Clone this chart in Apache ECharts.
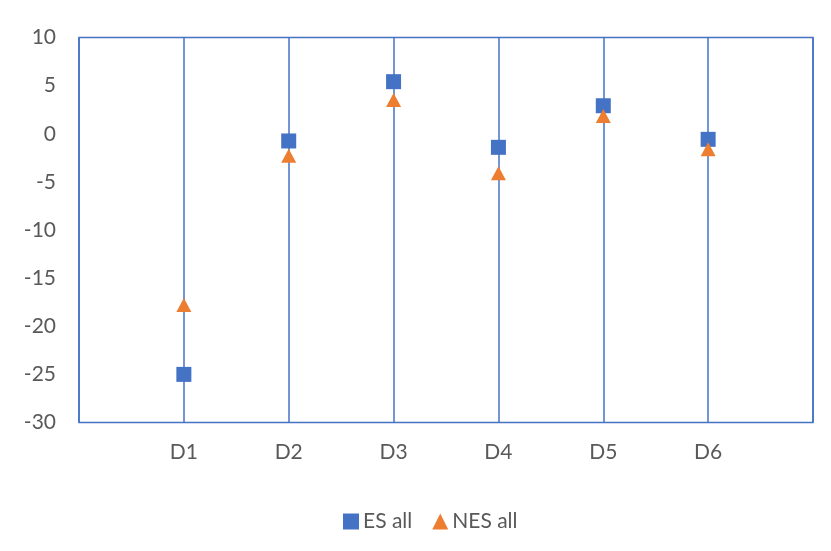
<!DOCTYPE html>
<html>
<head>
<meta charset="utf-8">
<script src="https://cdn.jsdelivr.net/npm/echarts@6/dist/echarts.min.js"></script>
<style>
  html, body { margin: 0; padding: 0; background: #fff; }
  #chart { width: 831px; height: 551px; }
</style>
</head>
<body>
<div id="chart"></div>
<script>
// Categories; empty slots pad each side so the points sit one band in from the frame.
const categories = ['', 'D1', 'D2', 'D3', 'D4', 'D5', 'D6', ''];
const esAll  = [null, -25.0, -0.75, 5.41, -1.41, 2.91, -0.58, null];
const nesAll = [null, -17.79, -2.28, 3.51, -4.11, 1.84, -1.62, null];
const yTicks = { min: -30, max: 10, interval: 5 };

const FONT = 'Lato, "Liberation Sans", sans-serif';
const TEXT = '#595959';
const BLUE = '#4472C4';
const ORANGE = '#ED7D31';

const chart = echarts.init(document.getElementById('chart'));
chart.setOption({
  animation: false,
  grid: {
    left: 79, right: 18, top: 37.5, bottom: 128.5,
    show: true, borderColor: BLUE, borderWidth: 1.5, backgroundColor: 'transparent'
  },
  xAxis: {
    type: 'category',
    data: categories,
    boundaryGap: false,
    axisLine: { show: false },
    axisTick: { show: false },
    axisLabel: { color: TEXT, fontFamily: FONT, fontSize: 21, margin: 19 },
    splitLine: { show: true, lineStyle: { color: BLUE, width: 1.5 } }
  },
  yAxis: {
    type: 'value',
    min: yTicks.min, max: yTicks.max, interval: yTicks.interval,
    axisLine: { show: false },
    axisTick: { show: false },
    splitLine: { show: false },
    axisLabel: { color: TEXT, fontFamily: FONT, fontSize: 21, margin: 23 }
  },
  legend: {
    top: 506,
    left: 338,
    itemWidth: 16,
    itemHeight: 16,
    itemGap: 20,
    textStyle: { color: TEXT, fontFamily: FONT, fontSize: 21, padding: [0, 0, 0, -1] },
    data: [
      { name: 'ES all', icon: 'rect' },
      { name: 'NES all', icon: 'triangle' }
    ]
  },
  series: [
    {
      name: 'ES all',
      type: 'scatter',
      data: esAll,
      symbol: 'rect',
      symbolSize: 15,
      itemStyle: { color: BLUE, opacity: 1 },
      z: 3
    },
    {
      name: 'NES all',
      type: 'scatter',
      data: nesAll,
      symbol: 'triangle',
      symbolSize: [15, 14],
      itemStyle: { color: ORANGE, opacity: 1 },
      z: 4
    }
  ]
});
</script>
</body>
</html>
